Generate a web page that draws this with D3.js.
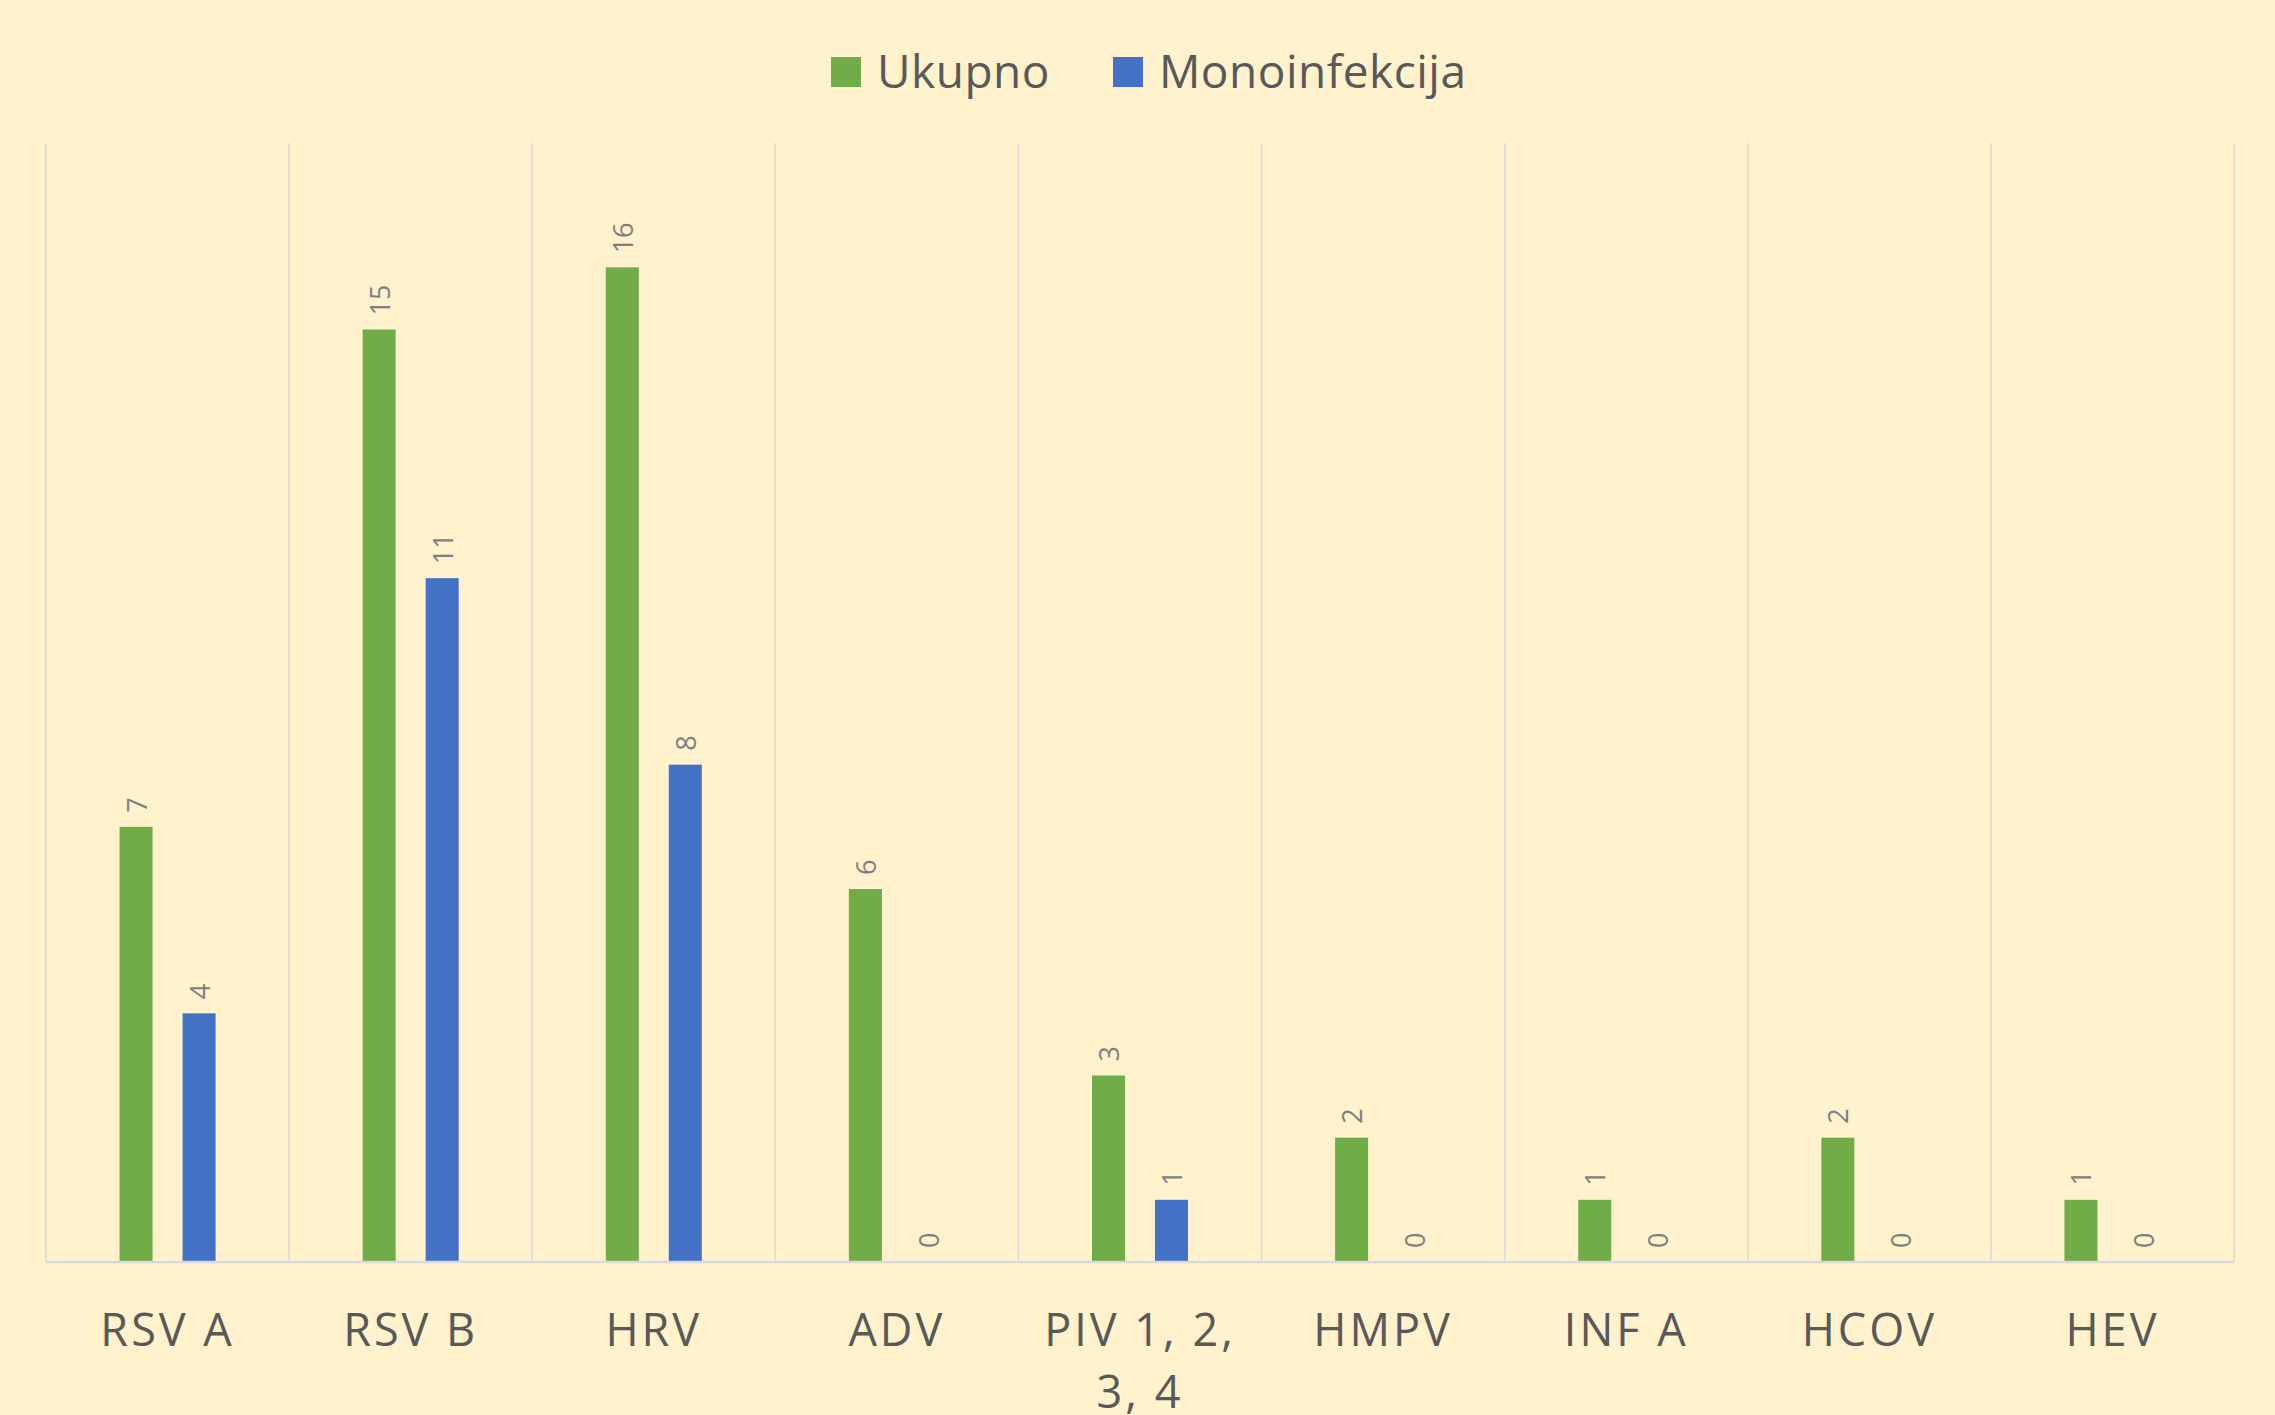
<!DOCTYPE html>
<html>
<head>
<meta charset="utf-8">
<script src="https://cdn.jsdelivr.net/npm/d3@7"></script>
<style>
  body { margin: 0; background: #fff2cc; }
  svg { display: block; }
</style>
</head>
<body>
<div id="chart"></div>
<script>
var categories = ["RSV A", "RSV B", "HRV", "ADV", "PIV 1, 2, 3, 4", "HMPV", "INF A", "HCOV", "HEV"];
var seriesNames = ["Ukupno", "Monoinfekcija"];
var ukupno = [7, 15, 16, 6, 3, 2, 1, 2, 1];
var monoinfekcija = [4, 11, 8, 0, 1, 0, 0, 0, 0];
var colors = ["#70ad47", "#4472c4"];

window.onload = () => {
  var W = 2275, H = 1415;
  var margin = { top: 143, right: 41, bottom: 153, left: 46 },
    width = W - margin.left - margin.right,
    height = H - margin.top - margin.bottom;

  var svg = d3.select("#chart").append("svg")
    .attr("width", W)
    .attr("height", H);

  svg.append("rect")
    .attr("width", W)
    .attr("height", H)
    .attr("fill", "#fff2cc");

  var g = svg.append("g")
    .attr("transform", "translate(" + margin.left + "," + margin.top + ")");

  var x0 = d3.scaleBand()
    .domain(categories)
    .range([0, width]);

  var x1 = d3.scaleBand()
    .domain(seriesNames)
    .range([0, x0.bandwidth()])
    .paddingInner(0.476)
    .paddingOuter(1.167);

  var y = d3.scaleLinear()
    .domain([0, 18])
    .range([height, 0]);

  // vertical gridlines at category edges
  var edges = categories.map(d => x0(d)).concat([width]);
  g.append("g")
    .selectAll("line")
    .data(edges)
    .join("line")
    .attr("x1", d => d)
    .attr("x2", d => d)
    .attr("y1", 0)
    .attr("y2", height)
    .attr("stroke", "#d9d9d9")
    .attr("stroke-width", 1.5);

  var rows = categories.map((c, i) => ({
    cat: c,
    vals: [
      { key: seriesNames[0], value: ukupno[i], color: colors[0] },
      { key: seriesNames[1], value: monoinfekcija[i], color: colors[1] }
    ]
  }));

  var groups = g.append("g")
    .selectAll("g")
    .data(rows)
    .join("g")
    .attr("transform", d => "translate(" + x0(d.cat) + ",0)");

  groups.selectAll("rect")
    .data(d => d.vals)
    .join("rect")
    .attr("x", d => x1(d.key))
    .attr("width", x1.bandwidth())
    .attr("y", d => y(d.value))
    .attr("height", d => height - y(d.value))
    .attr("fill", d => d.color);

  // rotated value labels
  groups.selectAll("text")
    .data(d => d.vals)
    .join("text")
    .attr("transform", d => "translate(" + (x1(d.key) + x1.bandwidth() / 2) + "," + (y(d.value) - 14) + ") rotate(-90)")
    .attr("text-anchor", "start")
    .attr("dominant-baseline", "central")
    .attr("font-family", "'Open Sans', sans-serif")
    .attr("font-size", 27)
    .attr("fill", "#7f7f7f")
    .text(d => d.value);

  // x axis line
  g.append("line")
    .attr("x1", 0)
    .attr("x2", width)
    .attr("y1", height)
    .attr("y2", height)
    .attr("stroke", "#d9d9d9")
    .attr("stroke-width", 2.5);

  // x axis labels
  var xAxis = g.append("g")
    .attr("transform", "translate(0," + height + ")")
    .call(d3.axisBottom(x0).tickSize(0).tickPadding(52));
  xAxis.select(".domain").remove();
  xAxis.selectAll("text")
    .attr("font-family", "'Open Sans', sans-serif")
    .attr("font-size", 45)
    .attr("fill", "#595959")
    .attr("letter-spacing", 3)
    .call(wrap, x0.bandwidth() - 20);

  function wrap(sel, maxW) {
    sel.each(function() {
      var text = d3.select(this),
        words = text.text().split(/\s+/),
        yy = text.attr("y"),
        dy = text.attr("dy"),
        line = [],
        lineNo = 0,
        tspan = text.text(null).append("tspan").attr("x", 0).attr("y", yy).attr("dy", dy);
      words.forEach(w => {
        line.push(w);
        tspan.text(line.join(" "));
        if (tspan.node().getComputedTextLength() > maxW && line.length > 1) {
          line.pop();
          tspan.text(line.join(" "));
          line = [w];
          lineNo++;
          tspan = text.append("tspan").attr("x", 0).attr("y", yy)
            .attr("dy", (lineNo * 1.38 + parseFloat(dy)) + "em").text(w);
        }
      });
    });
  }

  // legend
  var legend = svg.append("g");
  var legendX = [831, 1113];
  seriesNames.forEach((name, i) => {
    var lg = legend.append("g").attr("transform", "translate(" + legendX[i] + ",57)");
    lg.append("rect")
      .attr("width", 30)
      .attr("height", 30)
      .attr("fill", colors[i]);
    lg.append("text")
      .attr("x", 46)
      .attr("y", 31)
      .attr("font-family", "'Open Sans', sans-serif")
      .attr("font-size", 46)
      .attr("letter-spacing", 0.5)
      .attr("fill", "#595959")
      .text(name);
  });
};
</script>
</body>
</html>
